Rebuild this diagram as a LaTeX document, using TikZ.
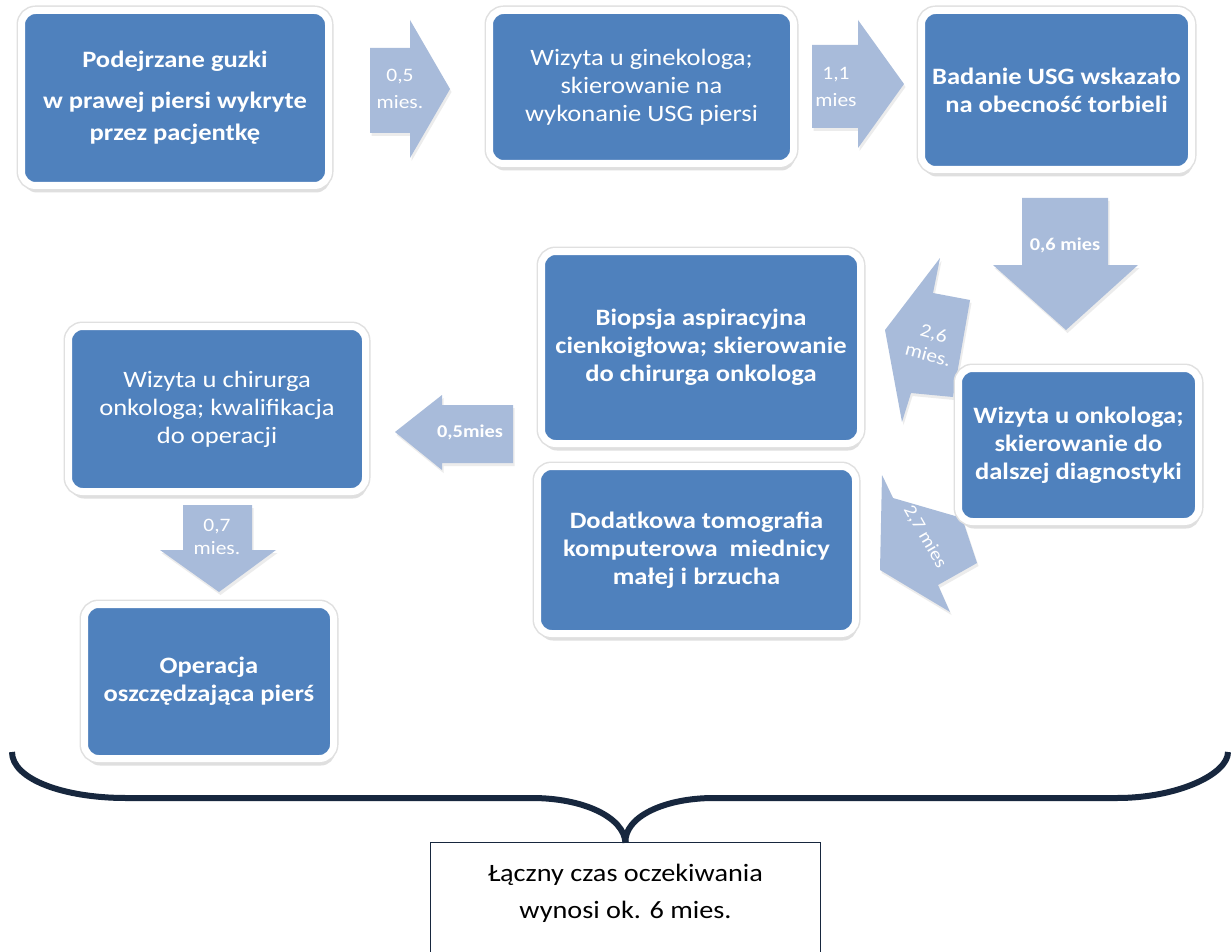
\documentclass[tikz,border=0pt]{standalone}
\usepackage{fontspec}
\setmainfont{Carlito}[FakeStretch=1.13]
\usetikzlibrary{shadows}
\definecolor{boxblue}{RGB}{79,129,189}
\definecolor{arrowblue}{RGB}{168,187,218}
\definecolor{navy}{RGB}{23,39,62}
\tikzset{
  stepbox/.style={fill=boxblue, draw=white, line width=7pt, rounded corners=14pt,
    text=white, align=center, inner sep=0pt,
    drop shadow={opacity=0.25, shadow xshift=1.5pt, shadow yshift=-7pt},
    preaction={draw=black!12, line width=10pt}},
  boldtxt/.style={font=\fontsize{23.5}{28}\selectfont\bfseries},
  regtxt/.style={font=\fontsize{23.5}{28}\selectfont},
  blockarrow/.style={fill=arrowblue, draw=none,
    drop shadow={opacity=0.15, shadow xshift=1.5pt, shadow yshift=-3pt}},
  arrowlabel/.style={text=white, align=center, inner sep=0pt, font=\fontsize{19}{27}\selectfont},
  arrowlabelb/.style={text=white, align=center, inner sep=0pt, font=\fontsize{18}{20}\selectfont\bfseries},
  bracestyle/.style={draw=navy, line width=6pt},
  totalbox/.style={align=center, inner sep=0pt, font=\fontsize{25}{37}\selectfont, text=black},
  frame/.style={draw=navy, line width=1.3pt}
}
\begin{document}
\begin{tikzpicture}[x=1pt, y=-1pt]
\useasboundingbox (0,0) rectangle (1231,952);
\fill[white] (0,0) rectangle (1231,952);

% block arrows (drawn first, boxes cover them)
\fill[blockarrow] (370,48) -- (410,48) -- (410,20) -- (450,89) -- (410,158) -- (410,133) -- (370,133) -- cycle;
\node[arrowlabel] (l1) at (400,89) {0,5\\mies.};

\fill[blockarrow] (812,45) -- (858,45) -- (858,20) -- (904,84) -- (858,148) -- (858,128) -- (812,128) -- cycle;
\node[arrowlabel] (l2) at (836,87) {1,1\\mies};

\fill[blockarrow] (1022,198) -- (1108,198) -- (1108,265) -- (1138,265) -- (1066,330) -- (993,265) -- (1022,265) -- cycle;
\node[arrowlabelb] (l3) at (1065,245) {0,6 mies};

\fill[blockarrow] (885,330) -- (940,258) -- (933,293) -- (970,300) -- (953,397) -- (911,393) -- (902,422) -- cycle;
\node[arrowlabel, rotate=-15, font=\fontsize{19}{22}\selectfont] (l4) at (931,344) {2,6\\mies.};

\fill[blockarrow] (880,570) -- (882,475) -- (893,498) -- (962,518) -- (977,563) -- (938,585) -- (950,612) -- cycle;
\node[arrowlabel, rotate=-60, font=\fontsize{18}{20}\selectfont] (l5) at (925,537) {2,7 mies};

\fill[blockarrow] (395,432) -- (442,395) -- (442,405) -- (513,405) -- (513,463) -- (442,463) -- (442,470) -- cycle;
\node[arrowlabelb] (l6) at (470,432) {0,5mies};

\fill[blockarrow] (183,505) -- (252,505) -- (252,550) -- (276,550) -- (219,592) -- (160,550) -- (183,550) -- cycle;
\node[arrowlabel, font=\fontsize{19}{23}\selectfont] (l7) at (217,537) {0,7\\mies.};

% process boxes
\node[stepbox, boldtxt, font=\fontsize{23.5}{32}\selectfont\bfseries, minimum width=307pt, minimum height=175pt] (A) at (175,98)
  {Podejrzane guzki\\[9pt]w prawej piersi wykryte\\przez pacjentkę};
\node[stepbox, regtxt, minimum width=304pt, minimum height=153pt] (B) at (641.5,87)
  {Wizyta u ginekologa;\\skierowanie na\\wykonanie USG piersi};
\node[stepbox, boldtxt, minimum width=270pt, minimum height=159pt] (C) at (1056.5,90)
  {Badanie USG wskazało\\na obecność torbieli};
\node[stepbox, boldtxt, minimum width=319pt, minimum height=192pt] (D) at (701,347.5)
  {Biopsja aspiracyjna\\cienkoigłowa; skierowanie\\do chirurga onkologa};
\node[stepbox, boldtxt, minimum width=240pt, minimum height=153pt] (E) at (1078.5,445)
  {Wizyta u onkologa;\\skierowanie do\\dalszej diagnostyki};
\node[stepbox, regtxt, minimum width=297pt, minimum height=165pt] (F) at (217,409)
  {Wizyta u chirurga\\onkologa; kwalifikacja\\do operacji};
\node[stepbox, boldtxt, minimum width=318pt, minimum height=167pt] (G) at (696.5,550)
  {Dodatkowa tomografia\\komputerowa\ \ miednicy\\małej i brzucha};
\node[stepbox, boldtxt, minimum width=249pt, minimum height=154pt] (H) at (209,681.5)
  {Operacja\\oszczędzająca pierś};

% summary box
\node[totalbox, minimum width=389pt, minimum height=101pt] (total) at (625.5,893.5)
  {Łączny czas oczekiwania\\wynosi ok. 6 mies.};
\draw[frame] ([yshift=-12pt]total.south west) -- (total.north west) -- (total.north east) -- ([yshift=-12pt]total.south east);

% brace
\coordinate (bl) at (12,752);
\coordinate (br) at (1228,752);
\draw[bracestyle] (bl) .. controls (12,779) and (63,798) .. (126,798) -- (532,798)
  .. controls (583,798) and (624,817) .. (total.north);
\draw[bracestyle] (total.north) .. controls (624,817) and (664,798) .. (714,798) -- (1117,798)
  .. controls (1178,798) and (1228,774) .. (br);
\end{tikzpicture}
\end{document}
